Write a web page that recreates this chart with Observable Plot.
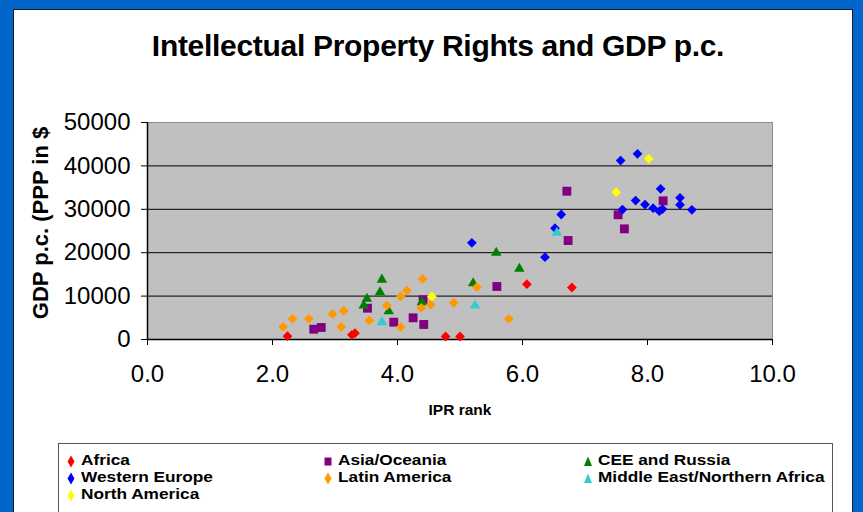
<!DOCTYPE html>
<html><head><meta charset="utf-8">
<script src="https://cdn.jsdelivr.net/npm/d3@7"></script>
<script src="https://cdn.jsdelivr.net/npm/@observablehq/plot@0.6"></script>
<style>
html,body{margin:0;padding:0;background:#0066cc;width:863px;height:512px;overflow:hidden;font-family:"Liberation Sans",Arial,sans-serif;}
#panel{position:absolute;left:13px;top:9px;width:838px;height:520px;background:#fff;border:1px solid #1a1a1a;}
#title{position:absolute;left:0;top:28px;width:876px;text-align:center;font-weight:bold;font-size:30px;line-height:36px;color:#000;letter-spacing:-0.3px;}
#chart{position:absolute;left:0;top:0;}
#legend{position:absolute;left:58px;top:443px;width:773px;height:80px;border:1px solid #555;background:#fff;}
.lt{position:absolute;font-weight:bold;font-size:15px;line-height:15px;white-space:nowrap;color:#000;transform:scaleX(1.15);transform-origin:0 50%;}
.lm{position:absolute;}
</style></head>
<body>
<div id="panel"></div>
<div id="title">Intellectual Property Rights and GDP p.c.</div>
<div id="chart"></div>
<div id="legend"></div>
<script>
// ---- data (IPR rank, GDP p.c. PPP $) ----
const seriesNames = ["Africa","Asia/Oceania","CEE and Russia","Western Europe","Latin America","Middle East/Northern Africa","North America"];
const seriesColors = ["#ff0000","#800080","#008000","#0000ff","#ff9900","#33cccc","#ffff00"];
const seriesSymbols = ["diamond2","square","triangle","diamond2","diamond2","triangle","diamond2"];

const africaIPR = [2.24, 3.27, 3.32, 4.77, 5.00, 6.07, 6.79];
const africaGDP = [760, 1080, 1450, 690, 690, 12740, 11980];

const asiaIPR = [2.66, 2.78, 3.52, 3.94, 4.25, 4.42, 4.41, 5.59, 6.73, 6.71, 7.53, 7.63, 8.25];
const asiaGDP = [2370, 2770, 7210, 3990, 5000, 3460, 9150, 12210, 22810, 34170, 28730, 25500, 31950];

const ceeIPR = [3.46, 3.51, 3.72, 3.75, 3.86, 4.39, 5.21, 5.58, 5.95];
const ceeGDP = [7830, 9380, 10900, 13800, 6520, 8600, 12970, 19970, 16290];

const westEuIPR = [5.19, 6.36, 6.52, 6.62, 7.57, 7.84, 7.60, 7.81, 7.96, 8.09, 8.21, 8.19, 8.24, 8.52, 8.52, 8.71];
const westEuGDP = [22280, 18960, 25640, 28800, 41240, 42780, 29950, 32020, 31100, 30250, 34720, 29560, 30050, 32640, 31030, 29880];

const latamIPR = [2.17, 2.32, 2.58, 2.96, 3.14, 3.10, 3.55, 3.83, 4.05, 4.15, 4.40, 4.05, 4.38, 4.53, 4.90, 5.27, 5.78];
const latamGDP = [2900, 4770, 4770, 5830, 6610, 2920, 4380, 7830, 9910, 11290, 13980, 2840, 7300, 8060, 8460, 12050, 4770];

const meIPR = [3.75, 5.24, 6.55];
const meGDP = [3990, 7830, 24580];

const naIPR = [4.55, 7.50, 8.02];
const naGDP = [9910, 33940, 41630];

const yTicks = [0, 10000, 20000, 30000, 40000, 50000];
const xTicks = [0, 2, 4, 6, 8, 10];

const seriesIPR = [africaIPR, asiaIPR, ceeIPR, westEuIPR, latamIPR, meIPR, naIPR];
const seriesGDP = [africaGDP, asiaGDP, ceeGDP, westEuGDP, latamGDP, meGDP, naGDP];
const symbolR = {diamond2: 4.4, square: 5.0, triangle: 3.9};

const dotMarks = seriesNames.map((name, i) => {
  const rows = seriesIPR[i].map((x, j) => ({series: name, ipr: x, gdp: seriesGDP[i][j]}));
  return Plot.dot(rows, {x: "ipr", y: "gdp", symbol: seriesSymbols[i], fill: seriesColors[i], r: symbolR[seriesSymbols[i]], stroke: "none"});
});

const chart = Plot.plot({
  width: 863,
  height: 430,
  marginLeft: 147,
  marginRight: 91,
  marginTop: 122,
  marginBottom: 91,
  style: {background: "transparent", fontFamily: "'Liberation Sans', Arial, sans-serif", color: "#000"},
  x: {domain: [0, 10]},
  y: {domain: [0, 50000]},
  marks: [
    Plot.frame({fill: "#c0c0c0", stroke: "#8a8a8a"}),
    Plot.ruleY(yTicks.slice(1, -1), {stroke: "#000", strokeWidth: 1}),
    Plot.ruleY([0], {stroke: "#000", strokeWidth: 1.5}),
    Plot.ruleX([0], {stroke: "#000", strokeWidth: 1.5}),
    Plot.axisY({ticks: yTicks, tickFormat: d3.format("d"), tickSize: 6, tickPadding: 11, fontSize: 24, label: null}),
    Plot.axisX({ticks: xTicks, tickFormat: d3.format(".1f"), tickSize: 6, tickPadding: 19, fontSize: 24, label: null}),
    ...dotMarks,
    Plot.text(["IPR rank"], {frameAnchor: "bottom", dy: 75, fontWeight: "bold", fontSize: 15.5, fill: "#000"}),
    Plot.text(["GDP p.c. (PPP in $"], {frameAnchor: "left", textAnchor: "middle", dx: -107, dy: -8, rotate: -90, fontWeight: "bold", fontSize: 22, fill: "#000"})
  ]
});
document.getElementById("chart").appendChild(chart);

// ---- legend ----
const legend = document.getElementById("legend");
const legendPos = [[12, 16], [269, 16], [529, 16], [12, 33], [269, 33], [529, 33], [12, 50]];
function markerSVG(sym, color) {
  let shape;
  if (sym === "square") shape = `<rect x="1.5" y="2.5" width="7" height="8" fill="${color}"/>`;
  else if (sym === "triangle") shape = `<polygon points="5,1.5 9,11 1,11" fill="${color}"/>`;
  else shape = `<polygon points="5,0.5 8.5,6.5 5,12.5 1.5,6.5" fill="${color}"/>`;
  return `<svg width="10" height="13" viewBox="0 0 10 13">${shape}</svg>`;
}
seriesNames.forEach((name, i) => {
  const [cx, cy] = legendPos[i];
  const m = document.createElement("div");
  m.className = "lm";
  m.style.left = (cx - 5) + "px";
  m.style.top = (cy - 6) + "px";
  m.innerHTML = markerSVG(seriesSymbols[i], seriesColors[i]);
  legend.appendChild(m);
  const t = document.createElement("div");
  t.className = "lt";
  t.style.left = (cx + 10) + "px";
  t.style.top = (cy - 8) + "px";
  t.textContent = name;
  legend.appendChild(t);
});
</script>
</body></html>
